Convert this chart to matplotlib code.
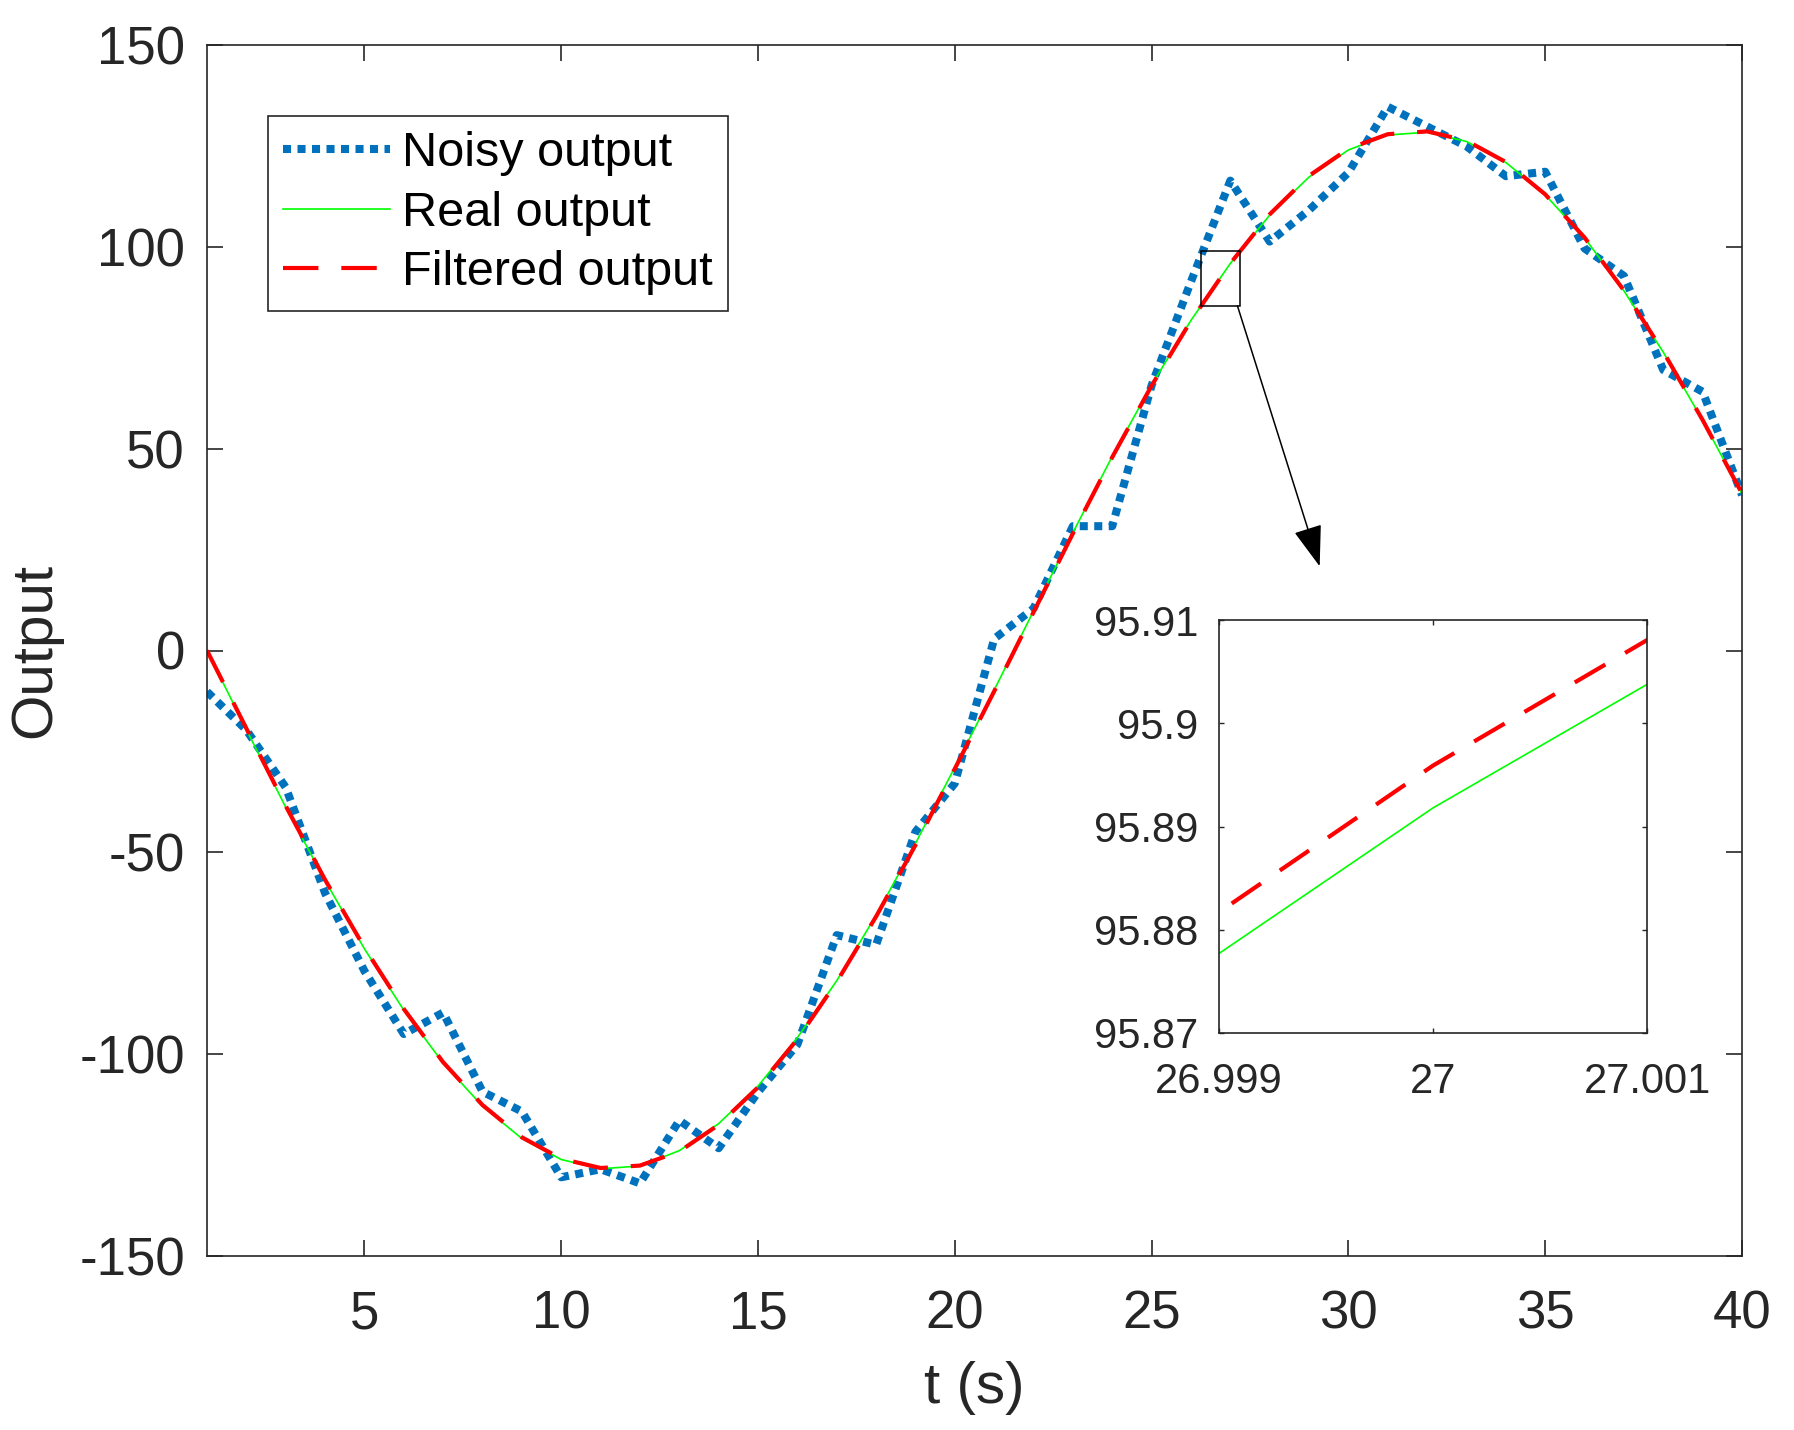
import matplotlib
matplotlib.use('Agg')
import matplotlib.pyplot as plt
from matplotlib.patches import Rectangle

plt.rcParams['font.family'] = ['Liberation Sans', 'DejaVu Sans']
plt.rcParams['axes.unicode_minus'] = False

# samples
t = list(range(1, 41))
noisy = [-10.2, -19.7, -33.9, -60.1, -79.4, -95.0, -89.7, -109.3, -114.2, -130.5,
         -128.5, -132.0, -116.4, -123.3, -109.4, -97.6, -70.5, -72.9, -44.9, -32.9,
         2.9, 10.4, 30.8, 30.8, 65.7, 91.4, 116.4, 101.3, 109.1, 118.4,
         134.7, 129.8, 124.9, 117.5, 118.6, 99.6, 92.8, 69.5, 64.1, 38.5]
real = [0.0, -19.6, -38.8, -57.0, -73.9, -89.1, -102.2, -112.9, -120.9, -126.1,
        -128.4, -127.7, -123.9, -117.2, -107.9, -95.9, -81.8, -65.6, -47.8, -28.9,
        -9.8, 9.8, 29.2, 48.1, 65.8, 81.7918, 95.8918, 107.8518, 117.3, 124.0,
        127.7, 128.4, 126.1, 120.9, 112.9, 102.2, 89.1, 73.9, 57.0, 38.8]
filtered = [0.0, -19.3, -38.5, -56.8, -73.6, -88.8, -102.0, -112.6, -120.6, -125.9,
            -128.2, -127.6, -124.1, -117.5, -108.2, -96.3, -82.1, -65.9, -48.2, -29.3,
            -10.1, 9.5, 29.0, 47.9, 65.6, 81.6959, 95.8959, 108.05, 117.6, 124.3,
            127.9, 128.6, 126.3, 121.0, 113.0, 102.3, 89.2, 74.0, 57.1, 38.9]
labels = ['Noisy output', 'Real output', 'Filtered output']

xticks = [5, 10, 15, 20, 25, 30, 35, 40]
yticks = [-150, -100, -50, 0, 50, 100, 150]
zoom_xticks = [26.999, 27.0, 27.001]
zoom_xlabels = ['26.999', '27', '27.001']
zoom_yticks = [95.87, 95.88, 95.89, 95.90, 95.91]
zoom_ylabels = ['95.87', '95.88', '95.89', '95.9', '95.91']
zoom_box = (26.25, 85.4, 27.24, 99.0)
arrow_from = (27.18, 85.4)
arrow_to = (29.27, 20.85)

blue = '#0072BD'
green = '#00FF00'
red = '#FF0000'
dark = '#262626'

W, H = 1794, 1430
fig = plt.figure(figsize=(W / 100, H / 100), dpi=100)
ax = fig.add_axes([207 / W, 1 - 1256 / H, 1535 / W, 1211 / H])

ax.plot(t, noisy, color=blue, lw=5.8, ls=(0, (1, 0.8)), label=labels[0])
ax.plot(t, real, color=green, lw=1.2, label=labels[1])
ax.plot(t, filtered, color=red, lw=3, ls=(0, (8.5, 5.5)), label=labels[2])

ax.set_xlim(1, 40)
ax.set_ylim(-150, 150)
ax.set_xticks(xticks)
ax.set_yticks(yticks)
ax.tick_params(direction='in', length=11.5, width=1.2, top=True, right=True,
               labelsize=38, colors=dark)
ax.tick_params(axis='x', pad=24)
ax.tick_params(axis='y', pad=16)
for s in ax.spines.values():
    s.set_linewidth(1.2)
    s.set_color(dark)

ax.set_xlabel('t (s)', fontsize=42, color=dark)
ax.xaxis.set_label_coords(0.5, -0.087)
ax.set_ylabel('Output', fontsize=42, color=dark)
ax.yaxis.set_label_coords(-0.094, 0.5)

leg = ax.legend(loc='upper left', bbox_to_anchor=(267.5 / W, 1 - 115.6 / H),
                bbox_transform=fig.transFigure, fontsize=35, fancybox=False,
                edgecolor=dark, framealpha=1, handlelength=2.2, handletextpad=0.25,
                borderpad=0.32, labelspacing=0.3, borderaxespad=0)
leg.get_frame().set_linewidth(1.2)

# zoom marker and arrow
x0, y0, x1, y1 = zoom_box
ax.add_patch(Rectangle((x0, y0), x1 - x0, y1 - y0, fill=False, ec='k', lw=1.1, zorder=5))
ax.annotate('', xy=arrow_to, xytext=arrow_from,
            arrowprops=dict(arrowstyle='-|>,head_length=1.3,head_width=0.45',
                            color='k', lw=1.1, mutation_scale=20,
                            shrinkA=0, shrinkB=0))

# inset
axi = fig.add_axes([1219 / W, 1 - 1033 / H, 428 / W, 413 / H])
axi.plot(t, noisy, color=blue, lw=5.8, ls=(0, (1, 0.8)))
axi.plot(t, real, color=green, lw=1.2)
axi.plot(t, filtered, color=red, lw=3, ls=(0, (8.5, 5.5)))
axi.set_xlim(zoom_xticks[0], zoom_xticks[-1])
axi.set_ylim(zoom_yticks[0], zoom_yticks[-1])
axi.set_xticks(zoom_xticks, zoom_xlabels)
axi.set_yticks(zoom_yticks, zoom_ylabels)
axi.tick_params(direction='in', length=3.6, width=1, top=True, right=True,
                labelsize=30, colors=dark)
axi.tick_params(axis='x', pad=21)
axi.tick_params(axis='y', pad=15)
for s in axi.spines.values():
    s.set_linewidth(1.2)
    s.set_color(dark)

fig.savefig('out.png', dpi=100, facecolor='white')
